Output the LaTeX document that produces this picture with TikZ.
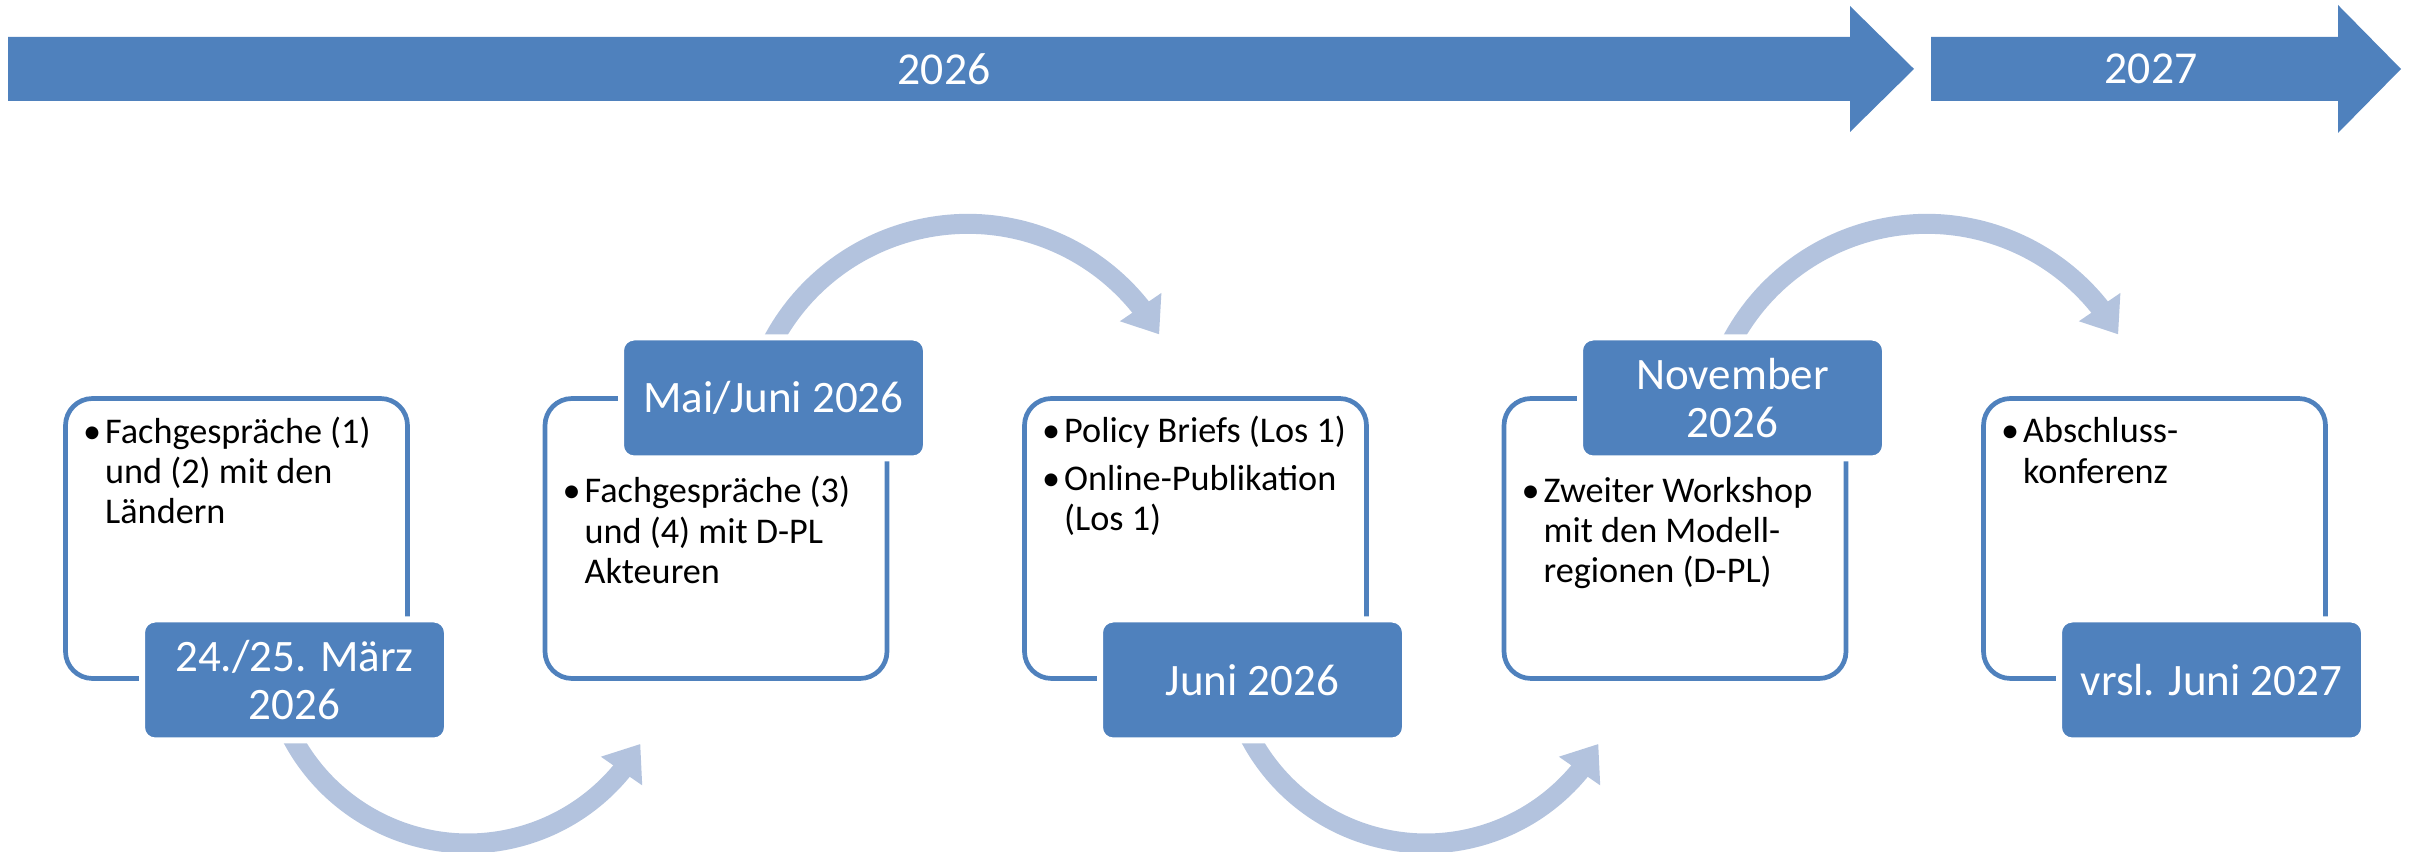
\documentclass[tikz,border=0pt]{standalone}
\usepackage{color}
\usepackage{fontspec}
\setmainfont{Carlito}
\usepackage{tikz}
\usetikzlibrary{positioning,shapes,arrows.meta,bending,calc,backgrounds}

\definecolor{darkblue}{HTML}{4F81BD}
\definecolor{paleblue}{HTML}{B3C3DE}

\newcommand{\bl}{\makebox[2.2mm][l]{\textbullet}}
\newcommand{\stagetext}[1]{\begin{tabular}[t]{@{}l@{}l@{}}#1\end{tabular}}

\begin{document}
\begin{tikzpicture}[
	stage/.style = {draw = darkblue, line width = 0.47mm, rounded corners = 2.7mm, minimum width = 3.42cm, minimum height = 2.8cm, inner sep = 0, outer sep = 0},
	datebox/.style = {fill = darkblue, draw = white, line width = 0.6mm, rounded corners = 1.3mm, minimum width = 3.05cm, minimum height = 1.21cm, inner sep = 0, outer sep = 0, text = white, align = center, font = \fontsize{12.8}{13.7}\selectfont},
	note/.style = {anchor = base west, inner sep = 0, font = \fontsize{10.3}{11.4}\selectfont},
	flow/.style = {draw = paleblue, line width = 2mm, -{Triangle[width = 4.8mm, length = 3.3mm]}},
	year/.style = {text = white, font = \fontsize{13}{15}\selectfont}
]

\useasboundingbox (0, 0) rectangle (24.18, 8.52);

% year bar
\fill[darkblue] (0.08, 8.15) -- (18.5, 8.15) -- (18.5, 8.46) -- (19.14, 7.83) -- (18.5, 7.20) -- (18.5, 7.51) -- (0.08, 7.51) -- cycle;
\fill[darkblue] (19.31, 8.15) -- (23.38, 8.15) -- (23.38, 8.47) -- (24.01, 7.83) -- (23.38, 7.19) -- (23.38, 7.51) -- (19.31, 7.51) -- cycle;

\node[year] (y1) at (9.44, 7.83) {2026};
\node[year] (y2) at (21.51, 7.83) {2027};

% stages
\foreach \i in {1, ..., 5}
	\node[stage] (s\i) at ({2.365 + (\i - 1) * 4.795}, 3.135) {};

\node[datebox] (d1) at (2.945, 1.72) {24./25. März\\2026};
\node[datebox] (d2) at (7.735, 4.54) {Mai/Juni 2026};
\node[datebox] (d3) at (12.525, 1.72) {Juni 2026};
\node[datebox] (d4) at (17.325, 4.54) {November\\2026};
\node[datebox] (d5) at (22.115, 1.72) {vrsl. Juni 2027};

\node[note] (n1) at ([xshift = 1.7mm, yshift = -4.5mm]s1.north west)
	{\stagetext{\bl & Fachgespräche (1)\\ & und (2) mit den\\ & Ländern}};
\node[note] (n2) at ([xshift = 1.7mm, yshift = -10.45mm]s2.north west)
	{\stagetext{\bl & Fachgespräche (3)\\ & und (4) mit D-PL\\ & Akteuren}};
\node[note] (n3) at ([xshift = 1.7mm, yshift = -4.45mm]s3.north west)
	{\stagetext{\bl & Policy Briefs (Los 1)\\[0.7mm] \bl & Online-Publikation\\ & (Los 1)}};
\node[note] (n4) at ([xshift = 1.7mm, yshift = -10.4mm]s4.north west)
	{\stagetext{\bl & Zweiter Workshop\\ & mit den Modell-\\ & regionen (D-PL)}};
\node[note] (n5) at ([xshift = 1.7mm, yshift = -4.45mm]s5.north west)
	{\stagetext{\bl & Abschluss-\\ & konferenz}};

% curved arrows
\begin{scope}[on background layer]
\draw[flow] ([xshift = -1.35mm, yshift = 2.8mm]d1.south) arc[start angle = 200, end angle = 330, radius = 1.99];
\draw[flow] ([xshift = -0.6mm, yshift = -1.4mm]d2.north) arc[start angle = 155, end angle = 30, radius = 2.21];
\draw[flow] ([xshift = -1.35mm, yshift = 2.8mm]d3.south) arc[start angle = 200, end angle = 330, radius = 1.99];
\draw[flow] ([xshift = -0.6mm, yshift = -1.4mm]d4.north) arc[start angle = 155, end angle = 30, radius = 2.21];
\end{scope}

\end{tikzpicture}
\end{document}
